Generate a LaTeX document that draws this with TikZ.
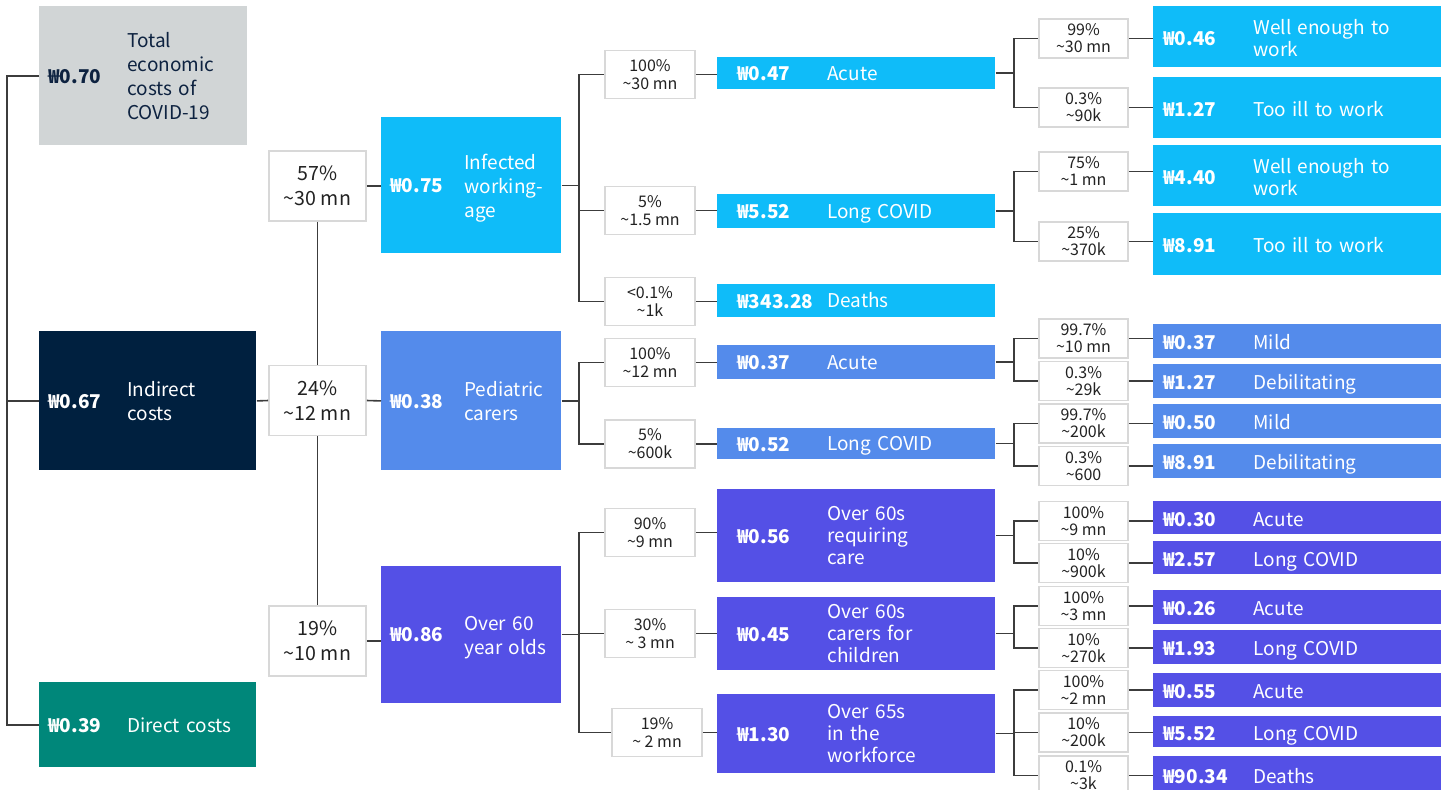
\documentclass[tikz,border=0pt]{standalone}
\usepackage{fontspec}
\setmainfont{Noto Sans CJK KR}
\usepackage{tikz}

\definecolor{totalgray}{HTML}{D1D5D6}
\definecolor{navybox}{HTML}{00203F}
\definecolor{navytext}{HTML}{0D2240}
\definecolor{costteal}{HTML}{00877A}
\definecolor{cyanbox}{HTML}{0FBCF9}
\definecolor{bluebox}{HTML}{548BEB}
\definecolor{purplebox}{HTML}{5450E6}
\definecolor{linegray}{HTML}{3C3C3C}
\definecolor{pctborder}{HTML}{D8D8D8}
\definecolor{textdark}{HTML}{222222}

\newcommand{\slotw}{40pt}
\newcommand{\costdrop}{1.5pt}
\newcommand{\tild}{\textasciitilde}
\newcommand{\costtext}[2]{\raisebox{-\costdrop}[\height][\depth]{\makebox[\slotw][l]{\bfseries #1}\begin{tabular}[c]{@{}l@{}}#2\end{tabular}}}

\tikzset{slot/.store in=\slotw, textdrop/.store in=\costdrop}

\begin{document}
\begin{tikzpicture}[x=0.5pt, y=-0.5pt,
  link/.style={draw=linegray, line width=0.8pt},
  pct/.style={draw=pctborder, line width=0.8pt, fill=white, text=textdark, align=center, inner sep=0pt},
  pctA/.style={pct, minimum width=48.5pt, minimum height=35pt, font=\fontsize{9.8}{12.5}\selectfont},
  pctB/.style={pct, minimum width=45pt, minimum height=24pt, font=\fontsize{8}{9}\selectfont},
  pctC/.style={pct, minimum width=44.5pt, minimum height=19.5pt, font=\fontsize{8}{8.5}\selectfont},
  cost/.style={rectangle, fill=#1, text=white, align=left, inner ysep=0pt, font=\fontsize{9.5}{12}\selectfont},
  leftbox/.style={cost=#1, anchor=north west, inner xsep=4.5pt, text width=99.5pt, slot=39.5pt},
  bigbox/.style={cost=#1, anchor=north west, inner xsep=4.5pt, text width=81pt, slot=37pt},
  midbox/.style={cost=#1, anchor=west, inner xsep=10pt, text width=119pt, slot=45pt, font=\fontsize{9.5}{11}\selectfont},
  endbox/.style={cost=#1, anchor=west, inner xsep=5pt, text width=134pt, slot=45pt, textdrop=2.2pt, font=\fontsize{9.5}{11}\selectfont},
]
\useasboundingbox (0,0) rectangle (1450,789);
\clip (0,0) rectangle (1450,789);

% totals
\node[leftbox=totalgray, text=navytext, text width=95pt, minimum height=69.5pt] (total) at (39,6) {\costtext{₩0.70}{Total\\economic\\costs of\\COVID-19}};
\node[leftbox=navybox, minimum height=69.5pt] (ind) at (39,331) {\costtext{₩0.67}{Indirect\\costs}};
\node[leftbox=costteal, minimum height=42.5pt] (dir) at (39,682) {\costtext{₩0.39}{Direct costs}};

% groups
\node[pctA] (p57) at (317.5,186) {57\%\\\tild30 mn};
\node[pctA] (p24) at (317.5,400.5) {24\%\\\tild12 mn};
\node[pctA] (p19) at (317.5,641) {19\%\\\tild10 mn};

\node[bigbox=cyanbox, minimum height=68pt] (inf) at (381,117) {\costtext{₩0.75}{Infected\\working-\\age}};
\node[bigbox=bluebox, minimum height=69.5pt] (ped) at (381,331) {\costtext{₩0.38}{Pediatric\\carers}};
\node[bigbox=purplebox, minimum height=68.5pt] (old) at (381,565.5) {\costtext{₩0.86}{Over 60\\year olds}};

% second split
\node[pctB] (ip1) at (650,74.5) {100\%\\\tild30 mn};
\node[pctB] (ip2) at (650,210.5) {5\%\\\tild1.5 mn};
\node[pctB] (ip3) at (650,301.5) {<0.1\%\\\tild1k};
\node[pctB] (pp1) at (650,362.5) {100\%\\\tild12 mn};
\node[pctB] (pp2) at (650,444) {5\%\\\tild600k};
\node[pctB] (op1) at (650,532.5) {90\%\\\tild9 mn};
\node[pctB] (op2) at (650,633.5) {30\%\\\tild\ 3 mn};
\node[pctB] (op3) at (657,732.5) {19\%\\\tild\ 2 mn};

\node[midbox=cyanbox, minimum height=16pt] (iac) at (717,73) {\costtext{₩0.47}{Acute}};
\node[midbox=cyanbox, minimum height=17pt] (ilc) at (717,211) {\costtext{₩5.52}{Long COVID}};
\node[midbox=cyanbox, minimum height=16.5pt] (ide) at (717,300.5) {\costtext{₩343.28}{Deaths}};
\node[midbox=bluebox, minimum height=17pt] (pac) at (717,362) {\costtext{₩0.37}{Acute}};
\node[midbox=bluebox, minimum height=15.5pt] (plc) at (717,443.5) {\costtext{₩0.52}{Long COVID}};
\node[midbox=purplebox, minimum height=46.5pt] (ocr) at (717,535.5) {\costtext{₩0.56}{Over 60s\\requiring\\care}};
\node[midbox=purplebox, minimum height=36.5pt] (ock) at (717,633.5) {\costtext{₩0.45}{Over 60s\\carers for\\children}};
\node[midbox=purplebox, minimum height=39.5pt] (owf) at (717,733.5) {\costtext{₩1.30}{Over 65s\\in the\\workforce}};

% third split
\node[pctC] (q1) at (1083.5,38.5) {99\%\\\tild30 mn};
\node[pctC] (q2) at (1083.5,107.5) {0.3\%\\\tild90k};
\node[pctC] (q3) at (1083.5,171.5) {75\%\\\tild1 mn};
\node[pctC] (q4) at (1083.5,241.5) {25\%\\\tild370k};
\node[pctC] (q5) at (1083.5,338.5) {99.7\%\\\tild10 mn};
\node[pctC] (q6) at (1083.5,381) {0.3\%\\\tild29k};
\node[pctC] (q7) at (1083.5,423.5) {99.7\%\\\tild200k};
\node[pctC] (q8) at (1083.5,466) {0.3\%\\\tild600};
\node[pctC] (q9) at (1083.5,521) {100\%\\\tild9 mn};
\node[pctC] (q10) at (1083.5,563) {10\%\\\tild900k};
\node[pctC] (q11) at (1083.5,606) {100\%\\\tild3 mn};
\node[pctC] (q12) at (1083.5,648) {10\%\\\tild270k};
\node[pctC] (q13) at (1083.5,690) {100\%\\\tild2 mn};
\node[pctC] (q14) at (1083.5,732.5) {10\%\\\tild200k};
\node[pctC] (q15) at (1083.5,775.5) {0.1\%\\\tild3k};

\node[endbox=cyanbox, minimum height=30.5pt] (r1) at (1153,36.5) {\costtext{₩0.46}{Well enough to\\work}};
\node[endbox=cyanbox, minimum height=30.5pt] (r2) at (1153,107.5) {\costtext{₩1.27}{Too ill to work}};
\node[endbox=cyanbox, minimum height=30.5pt] (r3) at (1153,175.5) {\costtext{₩4.40}{Well enough to\\work}};
\node[endbox=cyanbox, minimum height=31pt] (r4) at (1153,244) {\costtext{₩8.91}{Too ill to work}};
\node[endbox=bluebox, minimum height=17pt] (r5) at (1153,341) {\costtext{₩0.37}{Mild}};
\node[endbox=bluebox, minimum height=17pt] (r6) at (1153,381) {\costtext{₩1.27}{Debilitating}};
\node[endbox=bluebox, minimum height=17pt] (r7) at (1153,421) {\costtext{₩0.50}{Mild}};
\node[endbox=bluebox, minimum height=17pt] (r8) at (1153,461) {\costtext{₩8.91}{Debilitating}};
\node[endbox=purplebox, minimum height=16.5pt] (r9) at (1153,517.5) {\costtext{₩0.30}{Acute}};
\node[endbox=purplebox, minimum height=16.5pt] (r10) at (1153,557.5) {\costtext{₩2.57}{Long COVID}};
\node[endbox=purplebox, minimum height=17pt] (r11) at (1153,607) {\costtext{₩0.26}{Acute}};
\node[endbox=purplebox, minimum height=17pt] (r12) at (1153,647) {\costtext{₩1.93}{Long COVID}};
\node[endbox=purplebox, minimum height=17pt] (r13) at (1153,690) {\costtext{₩0.55}{Acute}};
\node[endbox=purplebox, minimum height=15.5pt] (r14) at (1153,731.5) {\costtext{₩5.52}{Long COVID}};
\node[endbox=purplebox, minimum height=19pt] (r15) at (1153,775) {\costtext{₩90.34}{Deaths}};

% connectors
\draw[link] (total.west) -- ++(-32,0) |- (ind.west);
\draw[link] (total.west) -- ++(-32,0) |- (dir.west);
\draw[link] (ind.east) -- (p24.west);
\draw[link] (p24.east) -- (ped.west);
\draw[link] (p57.south) -- (p24.north);
\draw[link] (p24.south) -- (p19.north);
\draw[link] (p57.east) -- (p57.east -| inf.west);
\draw[link] (p19.east) -- (p19.east -| old.west);

\draw[link] (inf.east) -- ++(17,0) |- (ip1.west);
\draw[link] (inf.east) -- ++(17,0) |- (ip2.west);
\draw[link] (inf.east) -- ++(17,0) |- (ip3.west);
\draw[link] (ped.east) -- ++(17,0) |- (pp1.west);
\draw[link] (ped.east) -- ++(17,0) |- (pp2.west);
\draw[link] (old.east) -- ++(17,0) |- (op1.west);
\draw[link] (old.east) -- ++(17,0) |- (op2.west);
\draw[link] (old.east) -- ++(17,0) |- (op3.west);

\draw[link] (ip1.east) -- (ip1.east -| iac.west);
\draw[link] (ip2.east) -- (ip2.east -| ilc.west);
\draw[link] (ip3.east) -- (ip3.east -| ide.west);
\draw[link] (pp1.east) -- (pp1.east -| pac.west);
\draw[link] (pp2.east) -- (pp2.east -| plc.west);
\draw[link] (op1.east) -- (op1.east -| ocr.west);
\draw[link] (op2.east) -- (op2.east -| ock.west);
\draw[link] (op3.east) -- (op3.east -| owf.west);

\draw[link] (iac.east) -- ++(18,0) |- (q1.west);
\draw[link] (iac.east) -- ++(18,0) |- (q2.west);
\draw[link] (ilc.east) -- ++(18,0) |- (q3.west);
\draw[link] (ilc.east) -- ++(18,0) |- (q4.west);
\draw[link] (pac.east) -- ++(18,0) |- (q5.west);
\draw[link] (pac.east) -- ++(18,0) |- (q6.west);
\draw[link] (plc.east) -- ++(18,0) |- (q7.west);
\draw[link] (plc.east) -- ++(18,0) |- (q8.west);
\draw[link] (ocr.east) -- ++(18,0) |- (q9.west);
\draw[link] (ocr.east) -- ++(18,0) |- (q10.west);
\draw[link] (ock.east) -- ++(18,0) |- (q11.west);
\draw[link] (ock.east) -- ++(18,0) |- (q12.west);
\draw[link] (owf.east) -- ++(18,0) |- (q13.west);
\draw[link] (owf.east) -- ++(18,0) |- (q14.west);
\draw[link] (owf.east) -- ++(18,0) |- (q15.west);

\draw[link] (q1.east) -- (q1.east -| r1.west);
\draw[link] (q2.east) -- (q2.east -| r2.west);
\draw[link] (q3.east) -- (q3.east -| r3.west);
\draw[link] (q4.east) -- (q4.east -| r4.west);
\draw[link] (q5.east) -- (q5.east -| r5.west);
\draw[link] (q6.east) -- (q6.east -| r6.west);
\draw[link] (q7.east) -- (q7.east -| r7.west);
\draw[link] (q8.east) -- (q8.east -| r8.west);
\draw[link] (q9.east) -- (q9.east -| r9.west);
\draw[link] (q10.east) -- (q10.east -| r10.west);
\draw[link] (q11.east) -- (q11.east -| r11.west);
\draw[link] (q12.east) -- (q12.east -| r12.west);
\draw[link] (q13.east) -- (q13.east -| r13.west);
\draw[link] (q14.east) -- (q14.east -| r14.west);
\draw[link] (q15.east) -- (q15.east -| r15.west);
\end{tikzpicture}
\end{document}
